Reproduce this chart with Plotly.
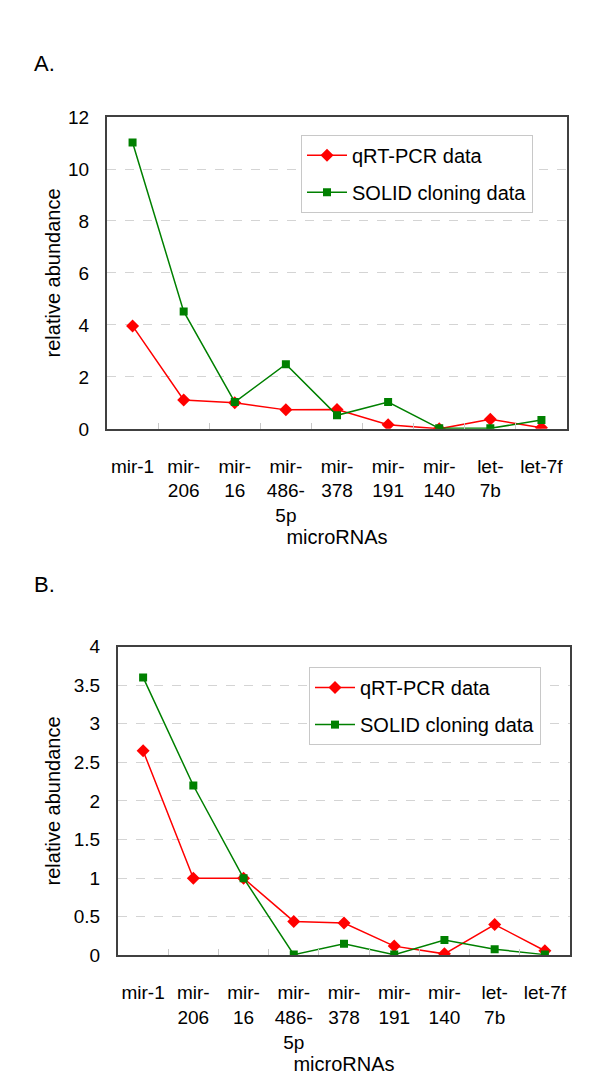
import plotly.graph_objects as go

W, H = 600, 1079

categories = ["mir-1", "mir-<br>206", "mir-<br>16", "mir-<br>486-<br>5p", "mir-<br>378",
              "mir-<br>191", "mir-<br>140", "let-<br>7b", "let-7f"]

a_qrt = [3.96, 1.11, 1.0, 0.73, 0.74, 0.16, 0.0, 0.37, 0.04]
a_solid = [11.02, 4.52, 1.03, 2.49, 0.52, 1.03, 0.02, 0.02, 0.34]

b_qrt = [2.65, 1.0, 1.0, 0.44, 0.42, 0.12, 0.02, 0.40, 0.06]
b_solid = [3.6, 2.2, 1.0, 0.01, 0.15, 0.01, 0.2, 0.08, 0.01]

a_yticks = [0, 2, 4, 6, 8, 10, 12]
b_yticks = [0, 0.5, 1, 1.5, 2, 2.5, 3, 3.5, 4]
b_yticktext = ["0", "0.5", "1", "1.5", "2", "2.5", "3", "3.5", "4"]

FONT = "Arial, 'Liberation Sans', sans-serif"
RED = "#FF0000"
GREEN = "#008000"

fig = go.Figure()

def add_series(xaxis, yaxis, qrt, solid, legend):
    fig.add_trace(go.Scatter(
        x=categories, y=qrt, name="qRT-PCR data", xaxis=xaxis, yaxis=yaxis,
        mode="lines+markers", line=dict(color=RED, width=1.5),
        marker=dict(symbol="diamond", size=10, color=RED),
        legend=legend, legendgroup=legend + "q"))
    fig.add_trace(go.Scatter(
        x=categories, y=solid, name="SOLID cloning data", xaxis=xaxis, yaxis=yaxis,
        mode="lines+markers", line=dict(color=GREEN, width=1.5),
        marker=dict(symbol="square", size=8, color=GREEN),
        legend=legend, legendgroup=legend + "s"))

add_series("x", "y", a_qrt, a_solid, "legend")
add_series("x2", "y2", b_qrt, b_solid, "legend2")

def px_x(v):
    return v / W

def px_y(v):
    return 1 - v / H

xcommon = dict(type="category", range=[-0.5, 8.5], showline=True, linecolor="#404040",
               linewidth=2, mirror=True, ticks="inside", tickson="boundaries",
               ticklen=6, tickcolor="#c8c8c8", tickwidth=1, showgrid=False,
               tickfont=dict(size=19, color="black", family=FONT),
               ticklabelstandoff=19, tickangle=0,
               title=dict(text="microRNAs", font=dict(size=20, color="black", family=FONT),
                          standoff=4))

def ycommon(title_standoff):
    return dict(showline=True, linecolor="#404040", linewidth=2, mirror=True,
                ticks="", showgrid=True, gridcolor="#d4d4d4", griddash="dash", gridwidth=1,
                zeroline=False, tickfont=dict(size=19, color="black", family=FONT),
                ticklabelstandoff=12,
                title=dict(text="relative abundance",
                           font=dict(size=20, color="black", family=FONT),
                           standoff=title_standoff))

legcommon = dict(bgcolor="white", bordercolor="#c8c8c8", borderwidth=1,
                 font=dict(size=20, color="black", family=FONT),
                 xanchor="left", yanchor="top", itemwidth=40, tracegroupgap=8,
                 itemclick=False)

fig.update_layout(
    width=W, height=H,
    margin=dict(l=0, r=0, t=0, b=0),
    paper_bgcolor="white", plot_bgcolor="white",
    font=dict(family=FONT, color="black"),
    xaxis=dict(domain=[px_x(99), px_x(559)], anchor="y", **xcommon),
    yaxis=dict(domain=[px_y(419), px_y(101)], anchor="x", range=[0, 12],
               tickvals=a_yticks, **ycommon(2)),
    xaxis2=dict(domain=[px_x(110), px_x(562)], anchor="y2", **xcommon),
    yaxis2=dict(domain=[px_y(956), px_y(641)], anchor="x2", range=[0, 4],
                tickvals=b_yticks, ticktext=b_yticktext, **ycommon(8)),
    legend=dict(x=px_x(293), y=px_y(119), **legcommon),
    legend2=dict(x=px_x(301), y=px_y(662), **legcommon),
    showlegend=True,
    annotations=[
        dict(text="A.", x=px_x(24), y=px_y(46), xref="paper", yref="paper",
             xanchor="left", yanchor="middle", showarrow=False,
             font=dict(size=22, color="black", family=FONT)),
        dict(text="B.", x=px_x(24), y=px_y(578), xref="paper", yref="paper",
             xanchor="left", yanchor="middle", showarrow=False,
             font=dict(size=22, color="black", family=FONT)),
    ],
)

fig.write_html("out.html")
